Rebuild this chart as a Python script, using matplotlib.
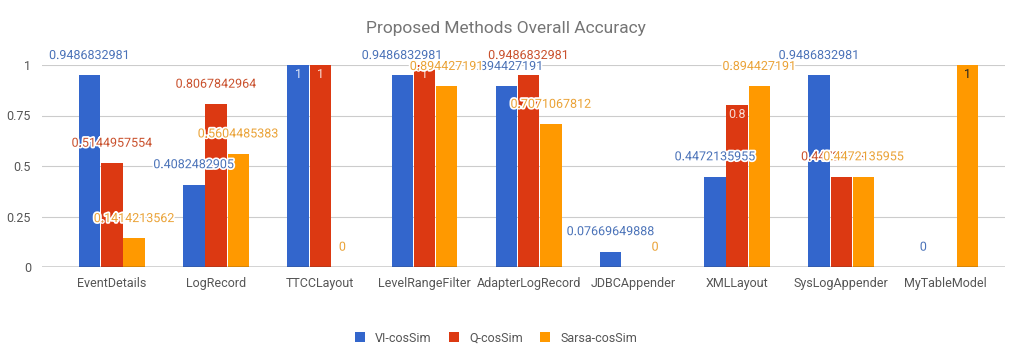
import numpy as np
import matplotlib
matplotlib.use("Agg")
import matplotlib.pyplot as plt
import matplotlib.patheffects as pe

plt.rcParams["font.family"] = ["Roboto", "DejaVu Sans"]

categories = ["EventDetails", "LogRecord", "TTCCLayout", "LevelRangeFilter",
              "AdapterLogRecord", "JDBCAppender", "XMLLayout", "SysLogAppender",
              "MyTableModel"]
vi_cossim = [0.9486832981, 0.4082482905, 1, 0.9486832981, 0.894427191,
             0.07669649888, 0.4472135955, 0.9486832981, 0]
q_cossim = [0.5144957554, 0.8067842964, 1, 1, 0.9486832981,
            np.nan, 0.8, 0.4472135955, np.nan]
sarsa_cossim = [0.1414213562, 0.5604485383, 0, 0.894427191, 0.7071067812,
                0, 0.894427191, 0.4472135955, 1]
series_names = ["VI-cosSim", "Q-cosSim", "Sarsa-cosSim"]
y_ticks = [0, 0.25, 0.5, 0.75, 1]

colors = ["#3366cc", "#dc3912", "#ff9900"]
label_colors = ["#4a72b8", "#c9502c", "#eaa236"]
# labels that sit inside the top of the bar (series index, category index)
inside = {(0, 2): "#dfe7f7", (1, 2): "#f7dcd5", (1, 3): "#f7dcd5",
          (1, 6): "#f7dcd5", (2, 8): "#222222"}

fig = plt.figure(figsize=(10.12, 3.45), dpi=100)
ax = fig.add_axes([42 / 1012, 1 - 267 / 345, (1005 - 42) / 1012, (267 - 65) / 345])

x = np.arange(len(categories))
w = 0.205
halo = [pe.withStroke(linewidth=2.5, foreground="white")]

for i, vals in enumerate([vi_cossim, q_cossim, sarsa_cossim]):
    pos = x + (i - 1) * (w + 0.008)
    ax.bar(pos, vals, width=w, color=colors[i], label=series_names[i], zorder=3)
    for j, v in enumerate(vals):
        if np.isnan(v):
            continue
        txt = f"{v:.10g}"
        if (i, j) in inside:
            ax.annotate(txt, (pos[j], v), xytext=(0, -6.5), textcoords="offset points",
                        ha="center", va="center", fontsize=9, color=inside[(i, j)],
                        zorder=5)
        else:
            ax.annotate(txt, (pos[j], v), xytext=(0, 14.3), textcoords="offset points",
                        ha="center", va="center", fontsize=9, color=label_colors[i],
                        path_effects=halo, zorder=5, annotation_clip=False)

ax.set_xlim(-0.67, len(categories) - 1 + 0.57)
ax.set_ylim(0, 1)
ax.set_yticks(y_ticks)
ax.set_yticklabels(["0", "0.25", "0.5", "0.75", "1"])
ax.set_xticks(x)
ax.set_xticklabels(categories)
ax.tick_params(axis="both", length=0, labelsize=9, labelcolor="#555555")
ax.tick_params(axis="x", pad=7)
ax.tick_params(axis="y", pad=8)
ax.yaxis.grid(True, color="#cccccc", linewidth=0.8, zorder=0)
ax.axhline(0, color="#333333", linewidth=1, zorder=4)
for s in ax.spines.values():
    s.set_visible(False)

fig.suptitle("Proposed Methods Overall Accuracy", y=0.94, fontsize=12.5, color="#757575")

leg = fig.legend(loc="center", bbox_to_anchor=(0.49, 0.02), ncol=3, frameon=False,
                 fontsize=9, handlelength=0.8, handleheight=0.8, columnspacing=1.4,
                 handletextpad=0.8)
for t in leg.get_texts():
    t.set_color("#555555")

fig.savefig("out.png", dpi=100)
